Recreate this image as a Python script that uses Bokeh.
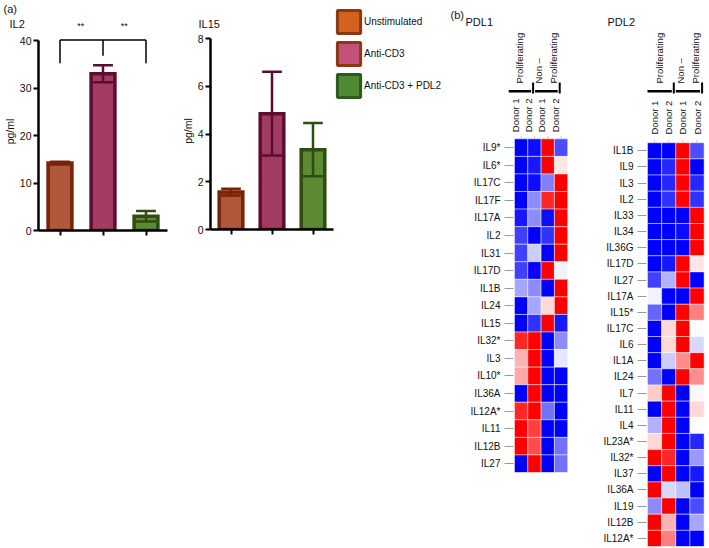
import numpy as np
from bokeh.plotting import figure
from bokeh.models import (Range1d, FixedTicker, Legend, LegendItem,
                          ColumnDataSource, LinearColorMapper)
from bokeh.layouts import row, column
from bokeh.transform import transform
from bokeh.embed import file_html
from bokeh.resources import INLINE
from bokeh.core.properties import value

FONT = "Liberation Sans"

# ---------------- data ----------------
conditions = ["Unstimulated", "Anti-CD3", "Anti-CD3 + PDL2"]
il2_mean = [14.2, 33.0, 3.0]
il2_sem = [0.3, 1.8, 1.1]
il15_mean = [1.57, 4.86, 3.35]
il15_sem = [0.14, 1.76, 1.12]
il2_ticks = [0, 10, 20, 30, 40]
il15_ticks = [0, 2, 4, 6, 8]
significance = ["**", "**"]
sig_positions = [1.0, 2.0]

bar_fill = ["#b0583b", "#a13b62", "#5e8a34"]
bar_line = ["#7a2206", "#5c0c31", "#2f4c12"]
legend_fill = ["#d4621f", "#c2527c", "#4f8a33"]
legend_line = ["#8a3a12", "#8a3a12", "#2e5a1d"]

donor_labels = ["Donor 1", "Donor 2", "Donor 1", "Donor 2"]
group_labels = [["Proliferating"], ["Non \u2013", "Proliferating"]]

pdl1_genes = ["IL9*", "IL6*", "IL17C", "IL17F", "IL17A", "IL2", "IL31", "IL17D",
              "IL1B", "IL24", "IL15", "IL32*", "IL3", "IL10*", "IL36A", "IL12A*",
              "IL11", "IL12B", "IL27"]
pdl1_values = [
    [-1.0, -0.95, 1.0, -0.7],
    [-1.0, -0.9, 1.0, 0.1],
    [-1.0, -0.95, -0.5, 1.0],
    [-1.0, -0.45, 0.85, 1.0],
    [-0.9, -0.45, -0.95, 1.0],
    [-0.75, -1.0, -0.8, 1.0],
    [-0.75, -0.2, -1.0, 1.0],
    [-0.75, -1.0, 1.0, -0.05],
    [-0.35, -0.45, -1.0, 1.0],
    [-1.0, -0.35, 0.15, 1.0],
    [-1.0, -0.8, 1.0, -0.9],
    [0.85, 1.0, -1.0, -0.45],
    [0.3, 1.0, -1.0, -0.1],
    [0.35, 1.0, -1.0, -1.0],
    [-1.0, 1.0, -1.0, -1.0],
    [0.85, 1.0, -0.55, -1.0],
    [1.0, 0.75, -1.0, -1.0],
    [1.0, 0.7, -1.0, -0.55],
    [-1.0, 1.0, -1.0, -0.55],
]

pdl2_genes = ["IL1B", "IL9", "IL3", "IL2", "IL33", "IL34", "IL36G", "IL17D", "IL27",
              "IL17A", "IL15*", "IL17C", "IL6", "IL1A", "IL24", "IL7", "IL11", "IL4",
              "IL23A*", "IL32*", "IL37", "IL36A", "IL19", "IL12B", "IL12A*"]
pdl2_values = [
    [-1.0, -1.0, 1.0, -0.7],
    [-1.0, -0.85, 1.0, -1.0],
    [-1.0, -0.85, 1.0, -0.85],
    [-1.0, -0.8, 1.0, -0.8],
    [-1.0, -1.0, -1.0, 1.0],
    [-1.0, -1.0, -0.95, 1.0],
    [-1.0, -1.0, -1.0, 1.0],
    [-1.0, -0.9, 1.0, 0.1],
    [-0.75, -0.3, 1.0, -1.0],
    [-0.05, -1.0, -1.0, 1.0],
    [-0.6, -1.0, 1.0, 0.5],
    [-1.0, 0.15, 1.0, 0.0],
    [-1.0, 0.15, 1.0, -0.15],
    [-1.0, -0.2, 0.45, 1.0],
    [-0.55, -1.0, 1.0, 0.45],
    [0.2, 1.0, -1.0, -0.03],
    [-1.0, 1.0, -1.0, 0.15],
    [-0.3, 1.0, -1.0, 0.0],
    [0.15, 1.0, -1.0, -0.85],
    [1.0, 0.85, -1.0, -0.4],
    [-1.0, 1.0, -1.0, -0.9],
    [1.0, -0.15, -0.25, -1.0],
    [-0.45, 1.0, -1.0, -0.7],
    [1.0, 0.3, -1.0, -0.35],
    [1.0, 0.5, -1.0, -1.0],
]

TXT = "#111111"
PAGE_H = 548


def blank_fig(w, h, xr, yr, top=0):
    p = figure(width=w, height=h, x_range=xr, y_range=yr, x_axis_location=None,
               y_axis_location=None, min_border_left=0, min_border_right=0,
               min_border_top=top, min_border_bottom=0, toolbar_location=None,
               output_backend="svg", outline_line_color=None, frame_align=False)
    p.grid.visible = False
    return p


# ---------------- bar charts ----------------
FRAME_TOP = 32      # page y where the bar frames begin
BAR_H = 216


def bar_chart(means, sems, ticks, zero_y, top_y, width, mb_left, mb_right):
    """zero_y / top_y: page y of the value 0 and of the last tick"""
    fh = zero_y - FRAME_TOP
    fw = width - mb_left - mb_right
    pyu = (zero_y - top_y) / ticks[-1]
    y_top = fh / pyu
    n = len(means)
    p = figure(width=width, height=BAR_H, x_range=Range1d(0, n), y_range=Range1d(0, y_top),
               min_border_left=mb_left, min_border_right=mb_right, min_border_top=0,
               min_border_bottom=BAR_H - fh, toolbar_location=None,
               output_backend="svg", outline_line_color=None, frame_align=False)
    pxu = fw / n
    xs = [i + 0.5 for i in range(n)]
    half_cap = 10 / pxu
    src = ColumnDataSource(dict(
        x=xs, top=means,
        lo=[m - s for m, s in zip(means, sems)],
        hi=[m + s for m, s in zip(means, sems)],
        cl=[x - half_cap for x in xs], cr=[x + half_cap for x in xs],
        fill=bar_fill, line=bar_line))
    p.vbar(x="x", top="top", bottom=0, width=24 / pxu, fill_color="fill", line_color="line",
           line_width=3.5, line_join="miter", source=src)
    p.segment(x0="x", y0="lo", x1="x", y1="hi", line_color="line", line_width=2.5, source=src)
    p.segment(x0="cl", y0="hi", x1="cr", y1="hi", line_color="line", line_width=2.5, source=src)
    p.segment(x0="cl", y0="lo", x1="cr", y1="lo", line_color="line", line_width=2.5, source=src)

    p.xgrid.visible = False
    p.ygrid.visible = False
    for ax in (p.xaxis, p.yaxis):
        ax.axis_line_width = 2.5
        ax.axis_line_color = "black"
        ax.major_tick_line_width = 2
        ax.major_tick_line_color = "black"
        ax.major_tick_out = 5
        ax.major_tick_in = 0
        ax.minor_tick_line_color = None
        ax.major_label_text_font = FONT
        ax.major_label_text_font_size = "10.5px"
        ax.major_label_text_color = TXT
    p.yaxis.ticker = FixedTicker(ticks=ticks)
    p.yaxis.bounds = (ticks[0], ticks[-1])
    p.yaxis.major_label_standoff = 2
    p.yaxis.axis_label = "pg/ml"
    p.yaxis.axis_label_standoff = 1
    p.yaxis.axis_label_text_font = FONT
    p.yaxis.axis_label_text_font_size = "10.5px"
    p.yaxis.axis_label_text_font_style = "normal"
    p.yaxis.axis_label_text_color = TXT
    p.xaxis.ticker = FixedTicker(ticks=xs)
    p.xaxis.major_label_overrides = {x: "" for x in xs}
    return p, pxu, pyu


IL2_W, IL2_ML = 178, 37
IL15_W, IL15_ML = 156, 30
il2, pxu2, pyu2 = bar_chart(il2_mean, il2_sem, il2_ticks, 230, 40, IL2_W, IL2_ML, 11)
il15, pxu15, pyu15 = bar_chart(il15_mean, il15_sem, il15_ticks, 229, 38.3, IL15_W,
                               IL15_ML, 1)

# significance bracket on IL2
top_v = il2_ticks[-1] + 0.1
il2.segment(x0=[0.5, 0.5, 2.5, 1.5], y0=[top_v] * 4,
            x1=[2.5, 0.5, 2.5, 1.5], y1=[top_v, 35.2, 35.2, 36.8],
            line_color="black", line_width=1.5)

# header strip above the bar charts, expressed in IL2 data units
strip_w = IL2_W + IL15_W
sx0 = -IL2_ML / pxu2
sy_top = 230 / pyu2
sy_bot = (230 - FRAME_TOP) / pyu2
strip = blank_fig(strip_w, FRAME_TOP, Range1d(sx0, sx0 + strip_w / pxu2),
                  Range1d(sy_bot, sy_top))


def sx(px):
    return sx0 + px / pxu2


def sy(py):
    return sy_top - py / pyu2


strip.text(x=sig_positions, y=[sy(25)] * 2, text=significance, text_align="center",
           text_baseline="middle", text_font=value(FONT), text_font_size=value("9px"),
           text_color=TXT)
strip.text(x=[sx(3), sx(9), sx(198)], y=[sy(8), sy(23), sy(23)],
           text=["(a)", "IL2", "IL15"], text_align="left", text_baseline="middle",
           text_font=value(FONT), text_font_size=value("11px"), text_color=TXT)

# legend figure
LEG_W, LEG_H, LEG_TOP = 131, 110, 7
legfig = blank_fig(LEG_W, LEG_H, Range1d(0, LEG_W), Range1d(LEG_H - LEG_TOP, 0), top=LEG_TOP)
items = []
for lab, f, l in zip(conditions, legend_fill, legend_line):
    r = legfig.quad(left=[-50], right=[-40], top=[-50], bottom=[-40], fill_color=f,
                    line_color=l, line_width=3)
    items.append(LegendItem(label=lab, renderers=[r]))
legend = Legend(items=items, location="top_left", padding=0, margin=0, spacing=3,
                glyph_width=29, glyph_height=29, label_standoff=1,
                label_text_font=FONT, label_text_font_size="10px",
                label_text_color=TXT, border_line_alpha=0,
                background_fill_alpha=0)
legfig.add_layout(legend)
legfig.text(x=[116], y=[14 - LEG_TOP], text=["(b)"], text_align="left",
            text_baseline="middle", text_font=value(FONT), text_font_size=value("11px"),
            text_color=TXT)


# ---------------- heatmaps ----------------
def rwb(v):
    if v < 0:
        c = int(round(255 * (1 + v)))
        return (c, c, 255)
    c = int(round(255 * (1 - v)))
    return (255, c, c)


palette = ["#%02x%02x%02x" % rwb(-1 + 2 * i / 255) for i in range(256)]
mapper = LinearColorMapper(palette=palette, low=-1, high=1)

HM_TOP = 27


def heatmap(title, genes, vals, fig_w, mb_left, cell_w, row_h, frame_bottom, shift,
            donor_bottom, title_offset):
    n = len(genes)
    frame_w = fig_w - mb_left
    frame_h = frame_bottom - HM_TOP
    cells_top = frame_bottom - n * row_h
    x0 = 0.5 - 6 / cell_w
    p = figure(width=fig_w, height=PAGE_H, x_range=Range1d(x0, x0 + frame_w / cell_w),
               y_range=Range1d(-0.5, -0.5 + frame_h / row_h),
               min_border_left=mb_left, min_border_right=0, min_border_top=HM_TOP,
               min_border_bottom=PAGE_H - frame_bottom, x_axis_location=None,
               toolbar_location=None, output_backend="svg", outline_line_color=None,
               frame_align=False)
    p.xgrid.visible = False
    p.ygrid.visible = False
    p.title.text = title
    p.title.align = "left"
    p.title.offset = title_offset
    p.title.standoff = 0
    p.title.text_font = FONT
    p.title.text_font_size = "11px"
    p.title.text_font_style = "normal"
    p.title.text_color = TXT

    xs, ys, zs = [], [], []
    for i, rowv in enumerate(vals):
        for j, z in enumerate(rowv):
            xs.append(j + 1)
            ys.append(n - 1 - i)
            zs.append(z)
    src = ColumnDataSource(dict(x=xs, y=ys, z=zs))
    p.rect(x="x", y="y", width=1, height=1, fill_color=transform("z", mapper),
           line_color="white", line_alpha=0.45, line_width=1, source=src)

    ax = p.yaxis
    ax.ticker = FixedTicker(ticks=list(range(n)))
    ax.major_label_overrides = {n - 1 - i: g for i, g in enumerate(genes)}
    ax.axis_line_color = None
    ax.major_tick_out = 4
    ax.major_tick_in = 5
    ax.major_tick_line_color = "#9a9a9a"
    ax.major_tick_line_width = 1
    ax.minor_tick_line_color = None
    ax.major_label_standoff = 4
    ax.major_label_text_font = FONT
    ax.major_label_text_font_size = "10px"
    ax.major_label_text_color = TXT

    def vy(page_y):
        return (n - 0.5) + (cells_top - page_y) / row_h

    dx = shift / cell_w
    ncol = len(donor_labels)
    p.segment(x0=[j + 1 for j in range(ncol)], y0=[n - 0.5] * ncol,
              x1=[j + 1 for j in range(ncol)], y1=[n - 0.5 + 3 / row_h] * ncol,
              line_color="#c8c8c8", line_width=1)
    p.text(x=[j + 1 + dx for j in range(ncol)], y=[vy(donor_bottom)] * ncol,
           text=donor_labels, angle=np.pi / 2, text_align="left", text_baseline="middle",
           text_font=value(FONT), text_font_size=value("9.5px"), text_color=TXT)
    hx0, hx1, vx, tx, tt = [], [], [], [], []
    for g, labs in enumerate(group_labels):
        left = 2 * g + 0.5 + dx
        right = 2 * g + 2.5 + dx - 4 / cell_w
        hx0.append(left)
        hx1.append(right)
        vx.append(2 * g + 2.5 + dx - 2 / cell_w)
        c = (left + right) / 2
        k = len(labs)
        for m, lab in enumerate(labs):
            tx.append(c + (m - (k - 1) / 2) * 15 / cell_w)
            tt.append(lab)
    ng = len(group_labels)
    p.segment(x0=hx0, y0=[vy(90.7)] * ng, x1=hx1, y1=[vy(90.7)] * ng,
              line_color="black", line_width=2.5)
    p.segment(x0=vx, y0=[vy(93)] * ng, x1=vx, y1=[vy(82)] * ng,
              line_color="black", line_width=2)
    p.text(x=tx, y=[vy(83)] * len(tx), text=tt, angle=np.pi / 2, text_align="left",
           text_baseline="middle", text_font=value(FONT), text_font_size=value("9.5px"),
           text_color=TXT)
    return p


pdl1 = heatmap("PDL1", pdl1_genes, pdl1_values, 115, 43, 13.3, 17.56, 472, -6,
               131.7, -43)
pdl2 = heatmap("PDL2", pdl2_genes, pdl2_values, 129, 61, 14.15, 16.15, 546, 0,
               134, -34)

left_block = column(strip, row(il2, il15))
layout = row(left_block, legfig, pdl1, pdl2)
open("out.html", "w").write(file_html(layout, INLINE))
